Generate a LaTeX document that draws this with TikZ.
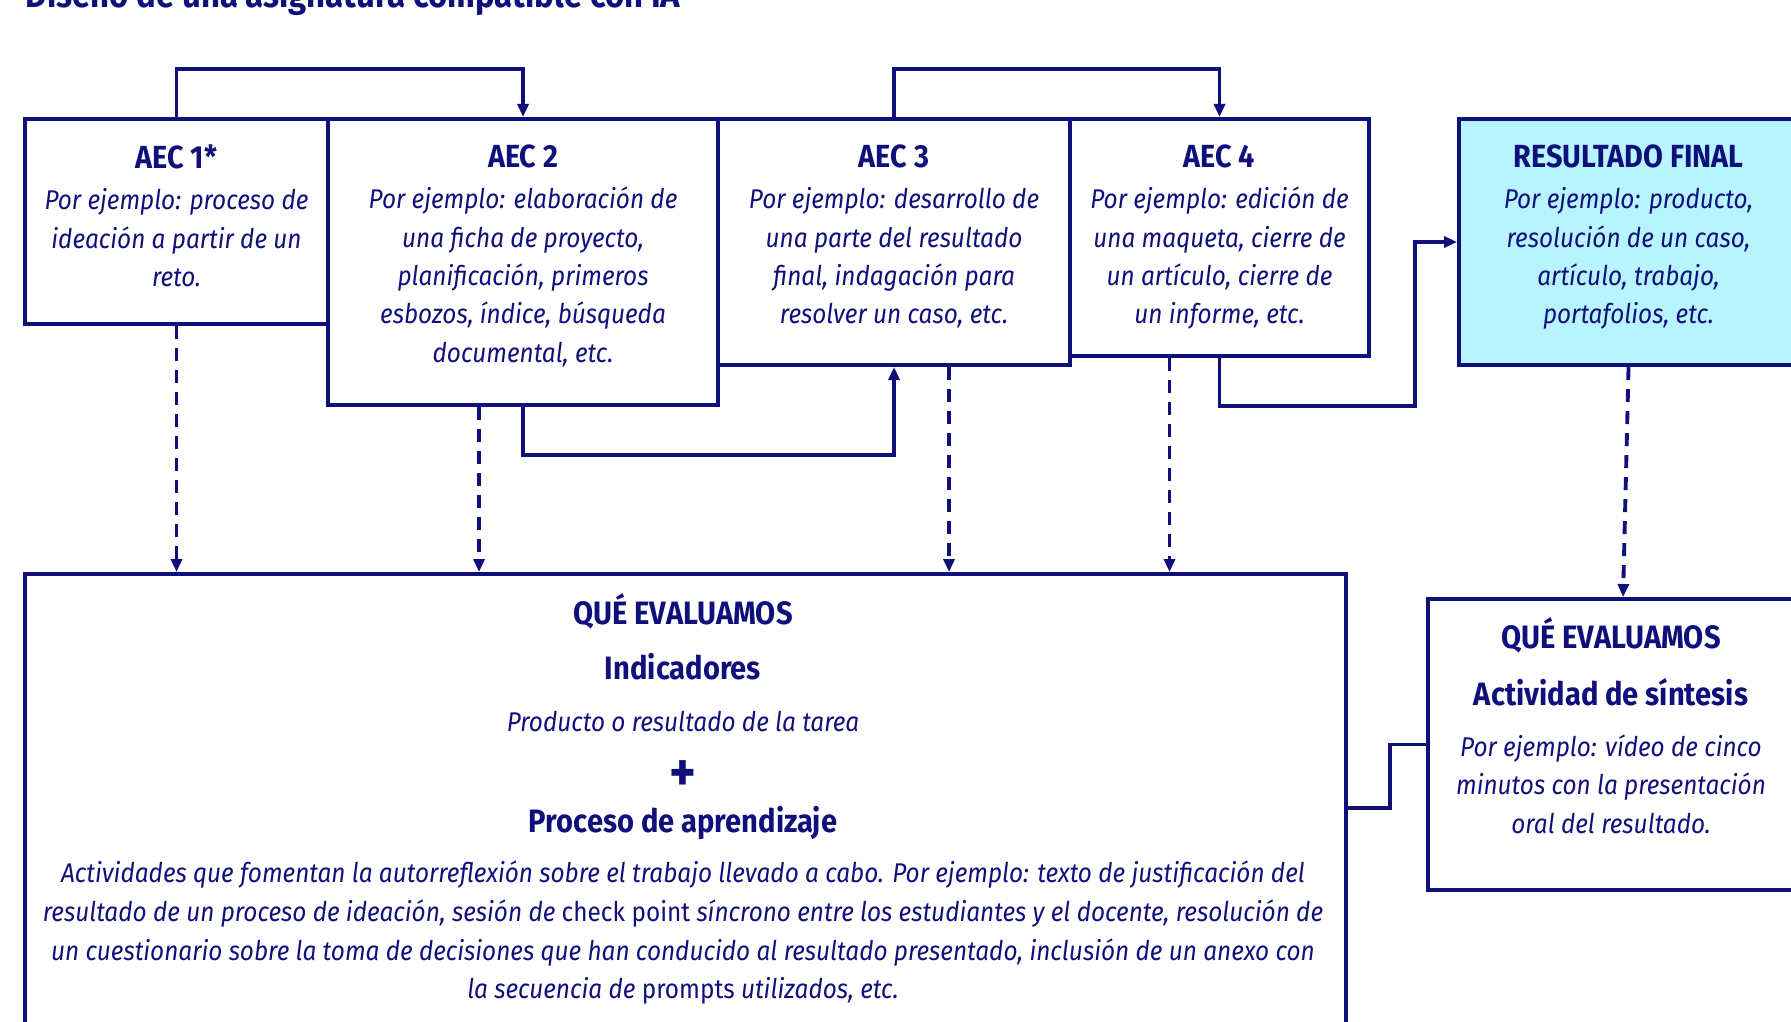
\documentclass[tikz,border=0pt]{standalone}
\usepackage{fontspec}
\setmainfont{Fira Sans}[FakeStretch=0.9]
\usetikzlibrary{arrows.meta,calc}
\definecolor{azul}{HTML}{10107C}
\definecolor{celeste}{HTML}{B8F4FD}
\newcommand{\cabecera}[1]{{\upshape\bfseries\fontsize{9.1}{10.9}\selectfont #1}}

\begin{document}
\begin{tikzpicture}[x=0.01cm,y=-0.01cm,
  caja/.style={draw=azul,line width=1.1pt,anchor=north west,inner sep=0pt},
  texto/.style={text=azul,align=center,inner sep=0pt,anchor=base,font=\fontsize{7.7}{10.9}\selectfont\itshape},
  bloque/.style={texto,anchor=north,execute at begin node=\strut},
  titulo/.style={text=azul,inner sep=0pt,anchor=base,font=\fontsize{9.2}{10.9}\selectfont\bfseries},
  linea/.style={draw=azul,line width=1.1pt},
  flecha/.style={linea,-{Triangle[length=0.13cm,width=0.11cm]}},
  guiones/.style={flecha,dash pattern=on 0.13cm off 0.09cm}]
  \useasboundingbox (0,0) rectangle (1791,1021);
  \node[titulo,anchor=base west,font=\fontsize{10.4}{12}\selectfont\bfseries] (encabezado) at (25,8) {Diseño de una asignatura compatible con IA};

  % cajas
  \node[caja,minimum width=3.03cm,minimum height=2.05cm] (aec1) at (23,117) {};
  \node[caja,minimum width=3.90cm,minimum height=2.86cm] (aec2) at (326,117) {};
  \node[caja,minimum width=3.52cm,minimum height=2.46cm] (aec3) at (716,117) {};
  \node[caja,minimum width=2.99cm,minimum height=2.37cm] (aec4) at (1068,117) {};
  \node[caja,fill=celeste,minimum width=3.39cm,minimum height=2.46cm] (final) at (1457,117) {};
  \node[caja,minimum width=13.20cm,minimum height=4.68cm] (evalua) at (23,572) {};
  \node[caja,minimum width=3.70cm,minimum height=2.91cm] (sintesis) at (1426,597) {};

  \node[bloque] (t1) at ($(aec1.north)+(0,27.5)$) {\cabecera{AEC 1*}\\[0.7pt]Por ejemplo: proceso de\\ideación a partir de un\\reto.};
  \node[bloque] (t2) at ($(aec2.north)+(0,27.5)$) {\cabecera{AEC 2}\\[0.7pt]Por ejemplo: elaboración de\\una ficha de proyecto,\\planificación, primeros\\esbozos, índice, búsqueda\\documental, etc.};
  \node[bloque] (t3) at ($(aec3.north)+(0,27.5)$) {\cabecera{AEC 3}\\[0.7pt]Por ejemplo: desarrollo de\\una parte del resultado\\final, indagación para\\resolver un caso, etc.};
  \node[bloque] (t4) at ($(aec4.north)+(0,27.5)$) {\cabecera{AEC 4}\\[0.7pt]Por ejemplo: edición de\\una maqueta, cierre de\\un artículo, cierre de\\un informe, etc.};
  \node[bloque] (tf) at ($(final.north)+(0,27.5)$) {\cabecera{RESULTADO FINAL}\\[0.7pt]Por ejemplo: producto,\\resolución de un caso,\\artículo, trabajo,\\portafolios, etc.};

  \node[titulo] (qe1) at (683,624) {QUÉ EVALUAMOS};
  \node[titulo] (ind) at (683,679) {Indicadores};
  \node[texto] (prod) at (683,731) {Producto o resultado de la tarea};
  \node[titulo,font=\fontsize{16}{16}\selectfont\bfseries] (mas) at (683,791) {+};
  \node[titulo] (proc) at (683,832) {Proceso de aprendizaje};
  \node[bloque,font=\fontsize{7.7}{11.05}\selectfont\itshape] (act) at (683,860) {Actividades que fomentan la autorreflexión sobre el trabajo llevado a cabo. Por ejemplo: texto de justificación del\\resultado de un proceso de ideación, sesión de \textup{check point} síncrono entre los estudiantes y el docente, resolución de\\un cuestionario sobre la toma de decisiones que han conducido al resultado presentado, inclusión de un anexo con\\la secuencia de \textup{prompts} utilizados, etc.};

  \node[titulo] (qe2) at (1611,648) {QUÉ EVALUAMOS};
  \node[titulo] (sint) at (1611,705) {Actividad de síntesis};
  \node[bloque] (vid) at (1611,734) {Por ejemplo: vídeo de cinco\\minutos con la presentación\\oral del resultado.};

  % conectores
  \draw[flecha] (aec1.north) -- ++(0,-48) -| (aec2.north);
  \draw[flecha] (aec3.north) -- ++(0,-48) -| (aec4.north);
  \draw[flecha] (aec2.south) -- ++(0,48) -| (aec3.south);
  \draw[flecha] (aec4.south) -- ++(0,48) -- ++(195.5,0) |- (final.west);

  \coordinate (d2) at ($(aec2.south)+(-44,0)$);
  \coordinate (d3) at ($(aec3.south)+(55,0)$);
  \coordinate (d4) at ($(aec4.south)+(-50,0)$);
  \draw[guiones] (aec1.south) -- (aec1.south |- evalua.north);
  \draw[guiones] (d2) -- (d2 |- evalua.north);
  \draw[guiones] (d3) -- (d3 |- evalua.north);
  \draw[guiones] (d4) -- (d4 |- evalua.north);
  \draw[guiones] (final.south) -- ($(sintesis.north)+(10,0)$);
  \draw[linea] (evalua.east) -- ++(42,0) |- (sintesis.west);
\end{tikzpicture}
\end{document}
